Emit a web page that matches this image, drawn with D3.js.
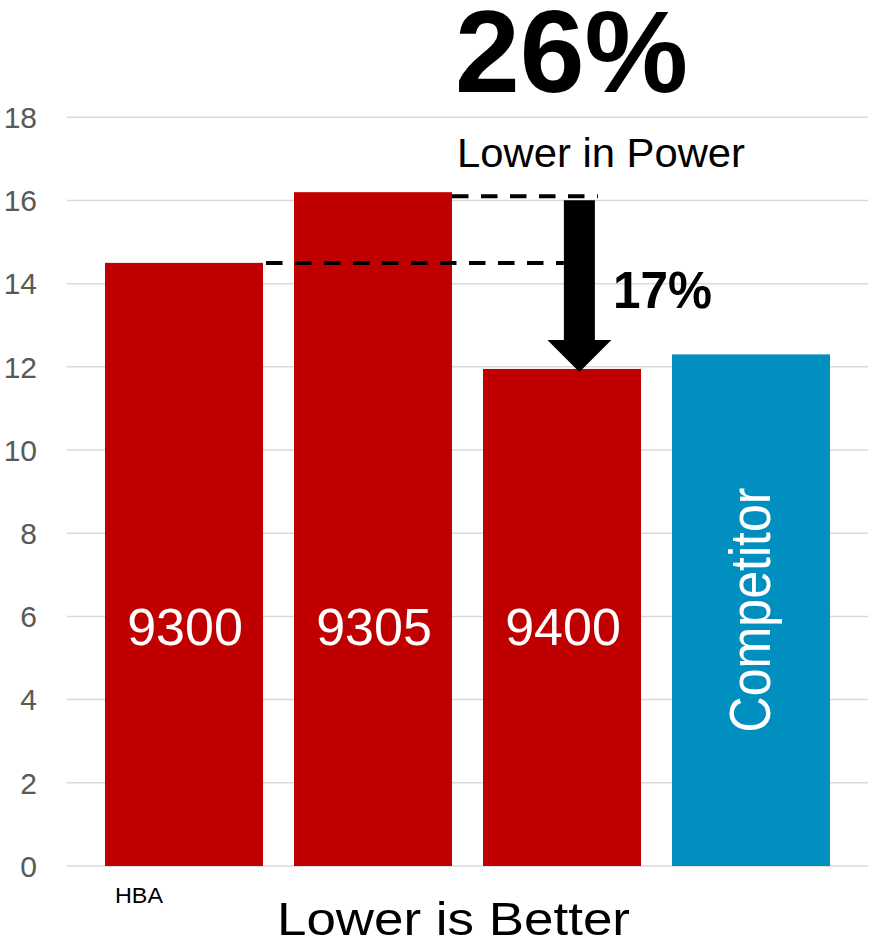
<!DOCTYPE html>
<html><head><meta charset="utf-8">
<script src="https://cdn.jsdelivr.net/npm/d3@7"></script>
<style>body{margin:0;background:#fff}svg{display:block}text{font-family:"Liberation Sans",Arial,sans-serif}</style>
</head><body><svg id="c" width="872" height="944"></svg>
<script>
const categories = ["9300","9305","9400","Competitor"];
const values = [14.5, 16.2, 11.95, 12.3];
const colors = ["#C00000","#C00000","#C00000","#008FBF"];
const yTicks = [0,2,4,6,8,10,12,14,16,18];
const refLow = 14.5, refHigh = 16.1, arrowEnd = 11.95;

const svg = d3.select("#c");
const x = d3.scaleBand().domain(categories).range([67,868]).paddingInner(0.164).paddingOuter(0.201);
const y = d3.scaleLinear().domain([0,18]).range([866,117.3]);
const bw = x.bandwidth();

// gridlines
svg.append("g").selectAll("line").data(yTicks).join("line")
  .attr("x1",67).attr("x2",868).attr("y1",d=>y(d)).attr("y2",d=>y(d))
  .attr("stroke","#d9d9d9").attr("stroke-width",1.5);
// tick labels
svg.append("g").selectAll("text").data(yTicks).join("text")
  .attr("x",37).attr("y",d=>y(d)).attr("dy","0.36em").attr("text-anchor","end")
  .attr("font-size",30).attr("fill","#595959").text(d=>d);

// bars
svg.append("g").selectAll("rect").data(categories).join("rect")
  .attr("x",d=>x(d)).attr("width",bw)
  .attr("y",(d,i)=>y(values[i])).attr("height",(d,i)=>y(0)-y(values[i]))
  .attr("fill",(d,i)=>colors[i]);

// bar labels
categories.slice(0,3).forEach(c=>{
  svg.append("text").attr("x",x(c)+bw/2+1).attr("y",645).attr("text-anchor","middle")
    .attr("font-size",52).attr("fill","#fff").text(c);
});
svg.append("text").attr("transform",`translate(770,610) rotate(-90)`)
  .attr("text-anchor","middle").attr("font-size",58).attr("fill","#fff")
  .attr("textLength",245).attr("lengthAdjust","spacingAndGlyphs").text("Competitor");

// arrow geometry
const ax = x("9400") + 0.61*bw;
const shaftHalf = 15.5, headHalf = 32, headLen = 32;
const yTop = y(refHigh)+4, yTip = y(arrowEnd)+3;

// dashed lines
svg.append("line").attr("x1",x("9300")+bw+3).attr("x2",ax-shaftHalf).attr("y1",y(refLow)).attr("y2",y(refLow))
  .attr("stroke","#000").attr("stroke-width",4).attr("stroke-dasharray","16.5,12.5");
svg.append("line").attr("x1",x("9305")+bw).attr("x2",ax+shaftHalf+3).attr("y1",y(refHigh)).attr("y2",y(refHigh))
  .attr("stroke","#000").attr("stroke-width",4).attr("stroke-dasharray","16.5,12.5");

svg.append("path").attr("fill","#000").attr("d",
  `M${ax-shaftHalf},${yTop} L${ax+shaftHalf},${yTop} L${ax+shaftHalf},${yTip-headLen} L${ax+headHalf},${yTip-headLen} L${ax},${yTip} L${ax-headHalf},${yTip-headLen} L${ax-shaftHalf},${yTip-headLen} Z`);

// annotations
svg.append("text").attr("x",455).attr("y",92).attr("font-size",116).attr("font-weight","bold")
  .attr("textLength",233).attr("lengthAdjust","spacingAndGlyphs").text("26%");
svg.append("text").attr("x",457).attr("y",167).attr("font-size",41)
  .attr("textLength",288).attr("lengthAdjust","spacingAndGlyphs").text("Lower in Power");
svg.append("text").attr("x",613).attr("y",308).attr("font-size",52).attr("font-weight","bold")
  .attr("textLength",99).attr("lengthAdjust","spacingAndGlyphs").text("17%");
svg.append("text").attr("x",115).attr("y",903).attr("font-size",22)
  .attr("textLength",48).attr("lengthAdjust","spacingAndGlyphs").text("HBA");
svg.append("text").attr("x",277).attr("y",935).attr("font-size",46)
  .attr("textLength",353).attr("lengthAdjust","spacingAndGlyphs").text("Lower is Better");
</script></body></html>
